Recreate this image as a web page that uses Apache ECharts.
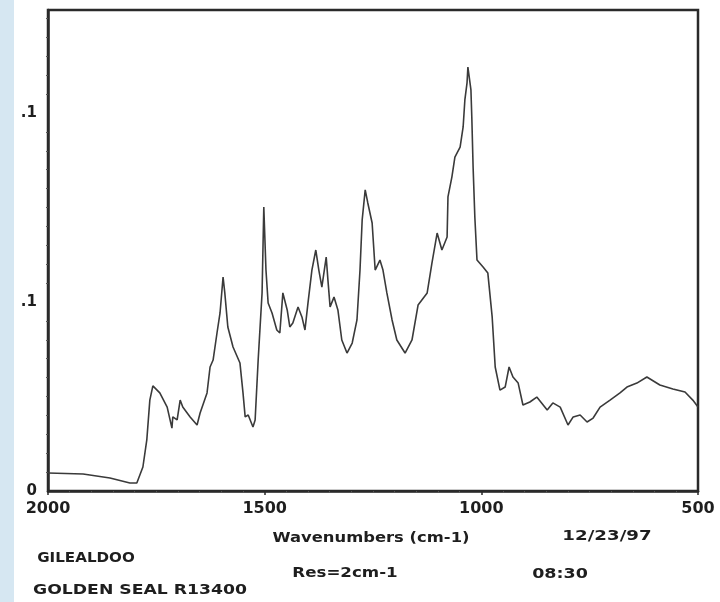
<!DOCTYPE html>
<html>
<head>
<meta charset="utf-8">
<script src="https://cdn.jsdelivr.net/npm/echarts@6/dist/echarts.min.js"></script>
<style>
html,body{margin:0;padding:0;background:#fff;}
#chart{width:720px;height:602px;}
</style>
</head>
<body>
<div id="chart"></div>
<script>
// Wavenumbers (cm-1)
const wavenumbers = [2000,1919,1857,1811,1795,1781,1772,1765,1758,1742,1725,1714,1712,1702,1695,1689,1672,1656,1649,1633,1626,1619,1610,1603,1596,1592,1585,1573,1557,1550,1545,1538,1527,1522,1515,1506,1502,1497,1492,1483,1472,1465,1458,1448,1442,1435,1423,1414,1407,1400,1391,1382,1375,1368,1358,1354,1349,1340,1331,1322,1310,1298,1287,1280,1275,1268,1262,1252,1245,1234,1227,1218,1206,1195,1176,1160,1146,1125,1114,1102,1091,1079,1077,1068,1061,1049,1042,1038,1033,1031,1024,1022,1019,1015,1010,996,985,975,968,957,945,936,927,915,904,888,872,848,835,818,800,788,772,756,742,726,703,680,664,641,618,588,558,530,512,500];
// Absorbance values at those wavenumbers
const absorbance = [0.0095,0.0090,0.0069,0.0042,0.0042,0.0127,0.0270,0.0481,0.0556,0.0519,0.0444,0.0333,0.0392,0.0376,0.0481,0.0444,0.0392,0.0349,0.0413,0.0519,0.0656,0.0693,0.0836,0.0942,0.1132,0.1048,0.0868,0.0762,0.0677,0.0519,0.0392,0.0402,0.0339,0.0376,0.0693,0.1048,0.1503,0.1169,0.0995,0.0942,0.0852,0.0836,0.1048,0.0958,0.0868,0.0889,0.0974,0.0921,0.0852,0.0995,0.1169,0.1275,0.1169,0.1079,0.1238,0.1116,0.0974,0.1026,0.0958,0.0799,0.0730,0.0783,0.0905,0.1169,0.1434,0.1593,0.1524,0.1418,0.1169,0.1222,0.1169,0.1048,0.0905,0.0799,0.0730,0.0799,0.0984,0.1048,0.1206,0.1365,0.1275,0.1344,0.1556,0.1661,0.1767,0.1820,0.1926,0.2069,0.2159,0.2243,0.2122,0.1979,0.1714,0.1450,0.1222,0.1185,0.1153,0.0921,0.0656,0.0534,0.0550,0.0656,0.0603,0.0571,0.0455,0.0471,0.0497,0.0429,0.0466,0.0444,0.0349,0.0392,0.0402,0.0365,0.0386,0.0444,0.0481,0.0519,0.0550,0.0571,0.0603,0.0561,0.0540,0.0524,0.0481,0.0444];

const xTickValues = [2000, 1500, 1000, 500];
const xTickLabels = ['2000', '1500', '1000', '500'];
const yTickValues = [0, 0.1, 0.2];
const yTickLabels = ['0', '.1', '.1'];

const xAxisTitle = 'Wavenumbers (cm-1)';
const noteFile = 'GILEALDOO';
const noteSample = 'GOLDEN SEAL R13400';
const noteRes = 'Res=2cm-1';
const noteDate = '12/23/97';
const noteTime = '08:30';

const seriesData = wavenumbers.map((w, i) => [w, absorbance[i]]);

function lookup(values, labels, v) {
  for (let i = 0; i < values.length; i++) {
    if (Math.abs(values[i] - v) < 1e-6) return labels[i];
  }
  return '';
}

const FONT = '"DejaVu Sans", "Liberation Sans", sans-serif';
const ink = '#1e1e1e';

function note(text, x, y, sx) {
  return {type: 'text', x: x, y: y, scaleX: sx, scaleY: 1,
    style: {text: text, fill: ink, font: 'bold 14px ' + FONT, align: 'center', verticalAlign: 'middle'}};
}

const chart = echarts.init(document.getElementById('chart'), null, {renderer: 'canvas'});
chart.setOption({
  animation: false,
  backgroundColor: '#ffffff',
  grid: {
    left: 48, right: 22, top: 10, bottom: 111,
    show: true, borderColor: '#2a2a2a', borderWidth: 2.5, backgroundColor: 'transparent'
  },
  xAxis: {
    type: 'value', min: 500, max: 2000, interval: 500, inverse: true,
    axisLine: {show: true, lineStyle: {color: '#2a2a2a', width: 2.5}},
    axisTick: {show: true, inside: false, length: 4, lineStyle: {color: '#2a2a2a', width: 1.5}},
    minorTick: {show: true, splitNumber: 10, length: 2, lineStyle: {color: '#555', width: 1}},
    splitLine: {show: false},
    axisLabel: {
      margin: 10, color: ink, fontFamily: FONT, fontWeight: 'bold', fontSize: 16,
      formatter: v => lookup(xTickValues, xTickLabels, v)
    }
  },
  yAxis: {
    type: 'value', min: 0, max: 0.2545, interval: 0.1,
    axisLine: {show: true, lineStyle: {color: '#2a2a2a', width: 2.5}},
    axisTick: {show: false},
    minorTick: {show: true, splitNumber: 10, length: 2, lineStyle: {color: '#555', width: 1}},
    splitLine: {show: false},
    axisLabel: {
      margin: 11, color: ink, fontFamily: FONT, fontWeight: 'bold', fontSize: 15,
      formatter: v => lookup(yTickValues, yTickLabels, v)
    }
  },
  series: [{
    type: 'line',
    data: seriesData,
    showSymbol: false,
    symbol: 'none',
    smooth: false,
    lineStyle: {color: '#3a3a3a', width: 1.6},
    z: 3
  }],
  graphic: [
    {type: 'rect', left: 0, top: 0, shape: {width: 14, height: 602}, style: {fill: '#d6e7f2'}, silent: true},
    note(xAxisTitle, 371, 538, 1.17),
    note(noteDate, 607, 536, 1.3),
    note(noteFile, 86, 558, 1.08),
    note(noteRes, 345, 573, 1.19),
    note(noteTime, 560, 574, 1.25),
    note(noteSample, 140, 590, 1.23)
  ]
});
</script>
</body>
</html>
